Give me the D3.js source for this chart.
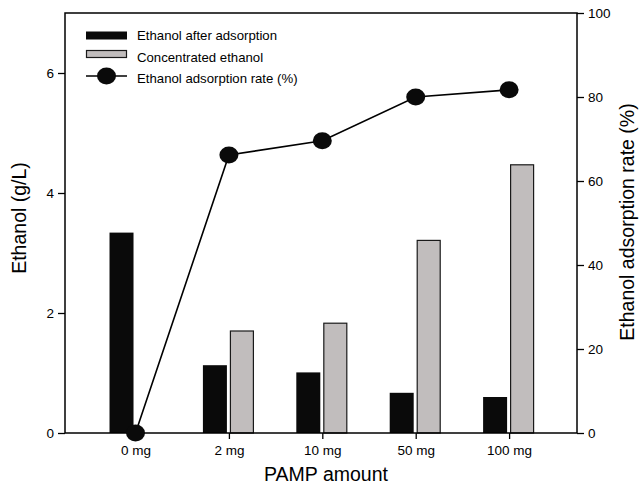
<!DOCTYPE html>
<html>
<head>
<meta charset="utf-8">
<script src="https://cdn.jsdelivr.net/npm/d3@7"></script>
<style>
  body { margin: 0; background: #fff; }
  text { font-family: "Liberation Sans", Arial, sans-serif; fill: #000; }
</style>
</head>
<body>
<svg id="chart" width="639" height="487"></svg>
<script>
// 数据
var categories = ["0 mg", "2 mg", "10 mg", "50 mg", "100 mg"];
var afterAdsorption = [3.34, 1.13, 1.01, 0.67, 0.60];
var concentrated = [null, 1.70, 1.83, 3.21, 4.47];
var adsorptionRate = [0, 66.2, 69.6, 80.0, 81.7];
var leftTicks = [0, 2, 4, 6];
var rightTicks = [0, 20, 40, 60, 80, 100];

function run() {
  var left = 65, right = 577, top = 13, bottom = 433;
  var svg = d3.select("#chart");

  // x 为类别序号的线性比例尺
  var x = d3.scaleLinear().domain([-0.755, 4.727]).range([left, right]);
  var yL = d3.scaleLinear().domain([0, 7]).range([bottom, top]);
  var yR = d3.scaleLinear().domain([0, 100]).range([bottom, top]);
  var barW = 24;

  // 柱子
  svg.selectAll(".bar1").data(afterAdsorption).enter().append("rect")
    .attr("class", "bar1")
    .attr("x", function (d, i) { return x(i) - 26; })
    .attr("y", function (d) { return yL(d); })
    .attr("width", barW)
    .attr("height", function (d) { return bottom - yL(d); })
    .attr("fill", "#0a0a0a");

  var gray = concentrated.map(function (d, i) { return { v: d, i: i }; })
    .filter(function (d) { return d.v != null; });
  svg.selectAll(".bar2").data(gray).enter().append("rect")
    .attr("class", "bar2")
    .attr("x", function (d) { return x(d.i) + 1.5; })
    .attr("y", function (d) { return yL(d.v); })
    .attr("width", barW - 1)
    .attr("height", function (d) { return bottom - yL(d.v); })
    .attr("fill", "#c1bdbd")
    .attr("stroke", "#1a1a1a")
    .attr("stroke-width", 1.2);

  // 坐标轴
  var axL = svg.append("g").attr("transform", "translate(" + left + ",0)")
    .call(d3.axisLeft(yL).tickValues(leftTicks).tickSize(7).tickPadding(4).tickFormat(d3.format("d")));
  var axR = svg.append("g").attr("transform", "translate(" + right + ",0)")
    .call(d3.axisRight(yR).tickValues(rightTicks).tickSize(7).tickPadding(4).tickFormat(d3.format("d")));
  var axB = svg.append("g").attr("transform", "translate(0," + bottom + ")")
    .call(d3.axisBottom(x).tickValues(d3.range(categories.length)).tickSize(6).tickPadding(6)
      .tickFormat(function (i) { return categories[i]; }));
  [axL, axR, axB].forEach(function (a) {
    a.select(".domain").remove();
    a.selectAll("line").attr("stroke", "#000").attr("stroke-width", 1.3);
    a.selectAll("text").style("font-size", "13.5px").attr("fill", "#000");
  });

  // 外框
  svg.append("rect").attr("x", left).attr("y", top)
    .attr("width", right - left).attr("height", bottom - top)
    .attr("fill", "none").attr("stroke", "#000").attr("stroke-width", 1.5);

  // 折线和点
  var line = d3.line()
    .x(function (d, i) { return x(i); })
    .y(function (d) { return yR(d); });
  svg.append("path").datum(adsorptionRate)
    .attr("d", line).attr("fill", "none").attr("stroke", "#000").attr("stroke-width", 1.6);
  svg.selectAll(".dot").data(adsorptionRate).enter().append("ellipse")
    .attr("cx", function (d, i) { return x(i); })
    .attr("cy", function (d) { return yR(d); })
    .attr("rx", 9.5).attr("ry", 8.5).attr("fill", "#0a0a0a");

  // 轴标题
  svg.append("text").attr("x", 326).attr("y", 481)
    .attr("text-anchor", "middle").style("font-size", "19.5px").text("PAMP amount");
  svg.append("text").attr("transform", "translate(26,218) rotate(-90)")
    .attr("text-anchor", "middle").style("font-size", "19.5px").text("Ethanol (g/L)");
  svg.append("text").attr("transform", "translate(634,222) rotate(-90)")
    .attr("text-anchor", "middle").style("font-size", "19.5px").text("Ethanol adsorption rate (%)");

  // 图例
  var lg = svg.append("g");
  lg.append("rect").attr("x", 86).attr("y", 31.5).attr("width", 41).attr("height", 8).attr("fill", "#0a0a0a");
  lg.append("rect").attr("x", 86.5).attr("y", 50.5).attr("width", 40).attr("height", 7)
    .attr("fill", "#c1bdbd").attr("stroke", "#1a1a1a").attr("stroke-width", 1.2);
  lg.append("line").attr("x1", 86).attr("x2", 127).attr("y1", 76).attr("y2", 76)
    .attr("stroke", "#000").attr("stroke-width", 1.6);
  lg.append("ellipse").attr("cx", 106.5).attr("cy", 76).attr("rx", 9.5).attr("ry", 8.5).attr("fill", "#0a0a0a");
  var labels = ["Ethanol after adsorption", "Concentrated ethanol", "Ethanol adsorption rate (%)"];
  lg.selectAll(".lt").data(labels).enter().append("text")
    .attr("x", 137).attr("y", function (d, i) { return 40 + i * 21.5; })
    .style("font-size", "13.2px").text(function (d) { return d; });
}

run();
</script>
</body>
</html>
